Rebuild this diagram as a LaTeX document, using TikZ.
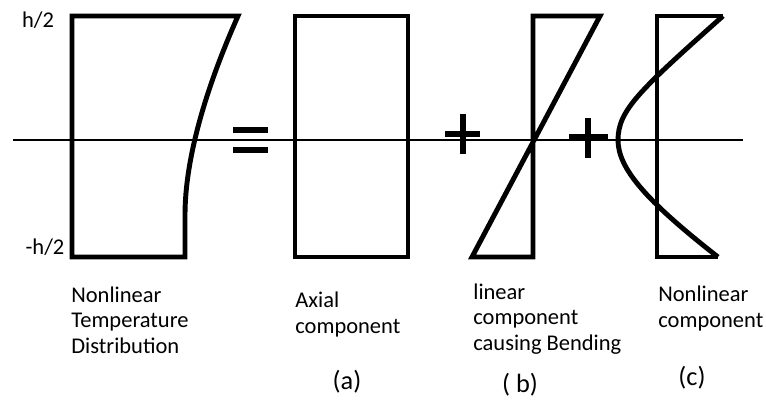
\documentclass[tikz,border=0pt]{standalone}
\usepackage{fontspec}
\setmainfont{Carlito}
\usepackage{tikz}

\begin{document}
\begin{tikzpicture}[x=0.02cm, y=-0.02cm]
\tikzset{
  prof/.style={line width=2.8pt, line join=miter},
  sign/.style={line width=3.2pt},
  lbl/.style={font=\fontsize{12.8}{14.5}\selectfont, inner sep=0pt, align=left, anchor=base west},
  tag/.style={font=\fontsize{15}{17}\selectfont, inner sep=0pt}
}
\useasboundingbox (0,0) rectangle (766,400);
%% --- neutral axis ---
\draw[line width=.8pt] (13,140) -- (743,140);
%% --- total profile: nonlinear temperature ---
\draw[prof] (72,16) -- (238,16) .. controls (205,90) and (185,160) .. (185,215)
  -- (185,257) -- (72,257) -- cycle;
\node[lbl, anchor=center] (htop) at (38,20) {h/2};
\node[lbl, anchor=center] (hbot) at (45,247) {-h/2};
%% --- equals ---
\draw[sign] (233,130) -- (268,130);
\draw[sign] (233,150) -- (268,150);
%% --- (a) axial: uniform ---
\draw[prof] (295,16) rectangle (408,257);
%% --- plus ---
\draw[sign] (445,134) -- (480,134);
\draw[sign] (463,114) -- (463,154);
%% --- (b) linear: bending ---
\draw[prof] (533,16) -- (600,16) -- (472,257) -- (533,257) -- cycle;
%% --- plus ---
\draw[sign] (569,137) -- (608,137);
\draw[sign] (588,118) -- (588,158);
%% --- (c) nonlinear remainder ---
\draw[prof] (723,16) -- (657,16) -- (657,257) -- (718,257);
\draw[prof] (723,16) .. controls (640,90) and (618,110) .. (618,140)
  .. controls (618,168) and (645,200) .. (718,257);
%% --- captions (base = last line) ---
\node[lbl] (nltd) at (71,353) {Nonlinear\\Temperature\\Distribution};
\node[lbl] (axial) at (295,333) {Axial\\component};
\node[lbl] (linb) at (473,350) {linear\\component\\causing Bending};
\node[lbl] (nlc) at (658,327) {Nonlinear\\component};
\node[tag] (taga) at (347,382) {(a)};
\node[tag] (tagb) at (520,385) {( b)};
\node[tag] (tagc) at (692,378) {(c)};
\end{tikzpicture}
\end{document}
